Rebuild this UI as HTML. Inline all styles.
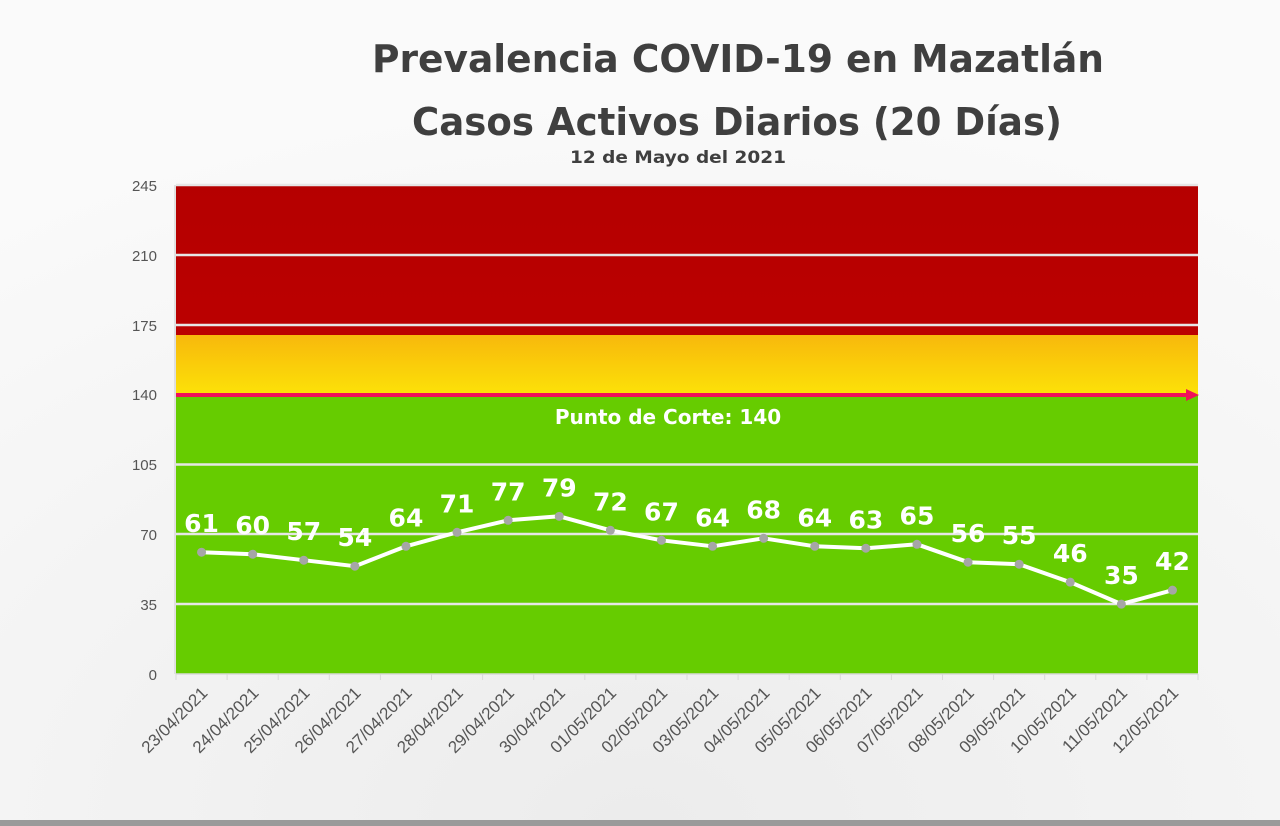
<!DOCTYPE html><html><head><meta charset="utf-8"><style>
html,body{margin:0;padding:0;background:#f7f7f7;}
svg{display:block;font-family:"Liberation Sans",sans-serif;}
</style></head><body>
<svg width="1280" height="826" viewBox="0 0 1280 826">
<defs>
<linearGradient id="yel" x1="0" y1="0" x2="0" y2="1"><stop offset="0" stop-color="#f8b80c"/><stop offset="1" stop-color="#fce208"/></linearGradient>
<linearGradient id="red" x1="0" y1="0" x2="0" y2="1"><stop offset="0" stop-color="#b50000"/><stop offset="1" stop-color="#bb0000"/></linearGradient>
<radialGradient id="bg" cx="0.5" cy="1" r="0.9"><stop offset="0" stop-color="#ececec"/><stop offset="1" stop-color="#fafafa"/></radialGradient>
</defs>
<rect width="1280" height="826" fill="url(#bg)"/>
<rect x="0" y="820" width="1280" height="6" fill="#9a9a9a"/>
<text x="372" y="72" textLength="732" lengthAdjust="spacingAndGlyphs" font-family="DejaVu Sans" font-size="38" font-weight="bold" fill="#3f3f3f">Prevalencia COVID-19 en Mazatlán</text>
<text x="412" y="135" textLength="650" lengthAdjust="spacingAndGlyphs" font-family="DejaVu Sans" font-size="38" font-weight="bold" fill="#3f3f3f">Casos Activos Diarios (20 Días)</text>
<text x="570" y="163" textLength="216" lengthAdjust="spacingAndGlyphs" font-family="DejaVu Sans" font-size="17" font-weight="bold" fill="#3f3f3f">12 de Mayo del 2021</text>
<rect x="176" y="185" width="1022" height="150" fill="url(#red)"/>
<rect x="176" y="335" width="1022" height="60" fill="url(#yel)"/>
<rect x="176" y="395" width="1022" height="279" fill="#66cc00"/>
<g stroke="#e6e6e6" stroke-width="2.5">
<line x1="176" y1="185" x2="1198" y2="185"/><line x1="176" y1="255" x2="1198" y2="255"/>
<line x1="176" y1="325" x2="1198" y2="325"/><line x1="176" y1="464.5" x2="1198" y2="464.5"/>
<line x1="176" y1="534" x2="1198" y2="534"/><line x1="176" y1="604" x2="1198" y2="604"/>
</g>
<line x1="176" y1="674" x2="1198" y2="674" stroke="#d9d9d9" stroke-width="1.5"/>
<line x1="175" y1="185" x2="175" y2="674" stroke="#d9d9d9" stroke-width="1.5"/>
<line x1="176" y1="395" x2="1190" y2="395" stroke="#f0105a" stroke-width="4"/>
<polygon points="1186,389 1199,395 1186,401" fill="#f0105a"/>
<text x="668" y="424" text-anchor="middle" font-family="DejaVu Sans" font-size="20" font-weight="bold" fill="#fff">Punto de Corte: 140</text>
<g font-size="15" fill="#555" text-anchor="end">
<text x="157" y="191">245</text><text x="157" y="261">210</text><text x="157" y="331">175</text>
<text x="157" y="400">140</text><text x="157" y="470">105</text><text x="157" y="540">70</text>
<text x="157" y="610">35</text><text x="157" y="680">0</text>
</g>
<g id="chart"></g>
</svg>
<script>
var v=[61,60,57,54,64,71,77,79,72,67,64,68,64,63,65,56,55,46,35,42];
var d=["23/04/2021","24/04/2021","25/04/2021","26/04/2021","27/04/2021","28/04/2021","29/04/2021","30/04/2021","01/05/2021","02/05/2021","03/05/2021","04/05/2021","05/05/2021","06/05/2021","07/05/2021","08/05/2021","09/05/2021","10/05/2021","11/05/2021","12/05/2021"];
var s="",pts=[];
for(var i=0;i<20;i++){var x=176+51.1*(i+0.5),y=674-v[i]*1.996;pts.push(x.toFixed(1)+","+y.toFixed(1));}
s+='<polyline points="'+pts.join(" ")+'" fill="none" stroke="#fff" stroke-width="4" stroke-linejoin="round"/>';
for(var i=0;i<20;i++){var x=176+51.1*(i+0.5),y=674-v[i]*1.996;
s+='<circle cx="'+x+'" cy="'+y+'" r="4.5" fill="#a6a6a6"/>';
s+='<text x="'+x+'" y="'+(y-20)+'" text-anchor="middle" font-family="DejaVu Sans" font-size="25" font-weight="bold" fill="#fff">'+v[i]+'</text>';
var tx=176+51.1*i;s+='<line x1="'+tx+'" y1="674" x2="'+tx+'" y2="680" stroke="#d9d9d9"/>';
s+='<text transform="translate('+(x+7)+',694) rotate(-45)" text-anchor="end" font-size="17" fill="#555">'+d[i]+'</text>';}
s+='<line x1="1198" y1="674" x2="1198" y2="680" stroke="#d9d9d9"/>';
document.getElementById("chart").innerHTML=s;
</script>
</body></html>
